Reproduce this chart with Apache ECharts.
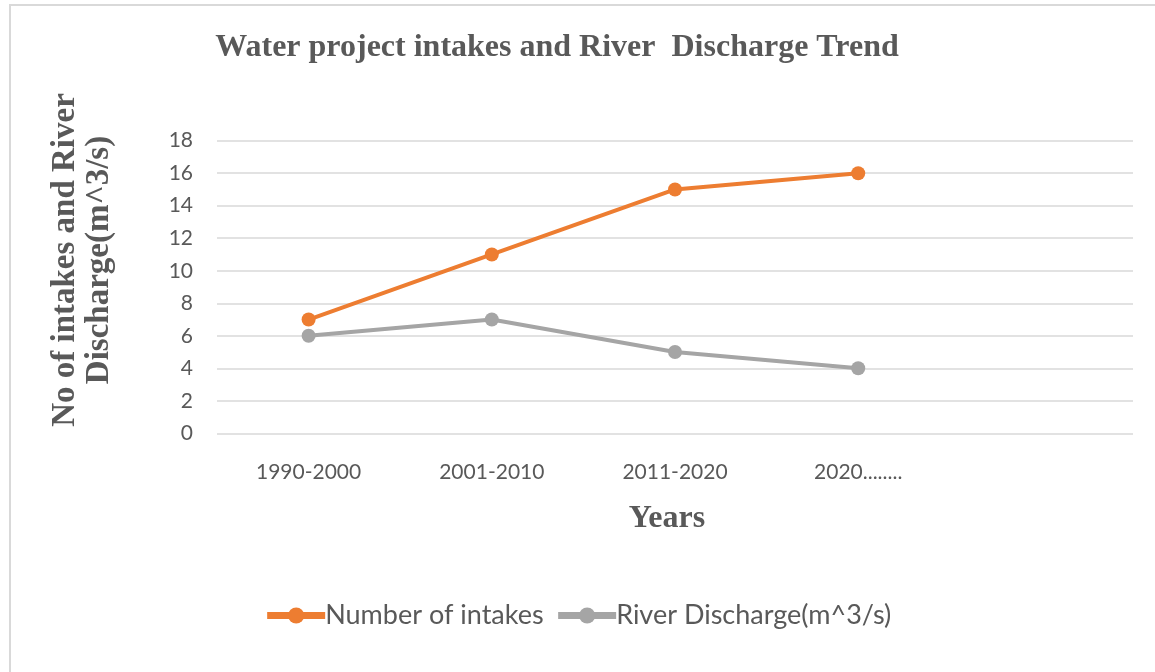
<!DOCTYPE html>
<html>
<head>
<meta charset="utf-8">
<title>Water project intakes and River Discharge Trend</title>
<script src="https://cdn.jsdelivr.net/npm/echarts@6/dist/echarts.min.js"></script>
<style>
  html, body { margin: 0; padding: 0; background: #fff; }
  #frame {
    position: absolute; left: 9px; top: 4px;
    width: 1160px; height: 680px;
    border: 2px solid #d9d9d9; box-sizing: border-box;
  }
  #chart { position: absolute; left: 0; top: 0; width: 1155px; height: 672px; }
</style>
</head>
<body>
<div id="frame"></div>
<div id="chart"></div>
<script>
// categories (the last, empty one keeps the plot area wide like the original)
const years = ['1990-2000', '2001-2010', '2011-2020', '2020........', '']
const intakes = [7, 11, 15, 16]
const discharge = [6, 7, 5, 4]
const yTicks = { min: 0, max: 18, interval: 2 }

const textGrey = '#595959'
const serif = '"Liberation Serif", "Times New Roman", serif'
const sans = 'Lato, "Open Sans", sans-serif'

const chart = echarts.init(document.getElementById('chart'))

const lineSeries = (name, data, color) => ({
  name,
  type: 'line',
  data,
  symbol: 'circle',
  symbolSize: 14,
  lineStyle: { color, width: 4 },
  itemStyle: { color },
  emphasis: { disabled: true },
})

chart.setOption({
  animation: false,
  title: {
    text: 'Water project intakes and River  Discharge Trend',
    left: 552,
    textAlign: 'center',
    top: 27,
    textStyle: { fontFamily: serif, fontWeight: 'bold', fontSize: 32, color: textGrey },
  },
  legend: {
    bottom: 38,
    left: 'center',
    itemWidth: 58,
    itemHeight: 20,
    itemGap: 11,
    lineStyle: { width: 7 },
    textStyle: { fontFamily: sans, fontSize: 27, color: textGrey, padding: [0, 0, 0, -5] },
    data: ['Number of intakes', 'River Discharge(m^3/s)'],
  },
  grid: { left: 217, right: 22, top: 140.7, bottom: 238.7, containLabel: false },
  xAxis: {
    type: 'category',
    data: years,
    boundaryGap: true,
    name: 'Years',
    nameLocation: 'middle',
    nameGap: 69,
    nameTextStyle: { fontFamily: serif, fontWeight: 'bold', fontSize: 32, color: textGrey, padding: [0, 16, 0, 0] },
    axisLine: { show: false },
    axisTick: { show: false },
    axisLabel: { fontFamily: sans, fontSize: 21, color: textGrey, margin: 28 },
  },
  yAxis: {
    type: 'value',
    min: yTicks.min,
    max: yTicks.max,
    interval: yTicks.interval,
    name: 'No of intakes and River\nDischarge(m^3/s)',
    nameLocation: 'middle',
    nameRotate: 90,
    nameGap: 101,
    nameTextStyle: {
      fontFamily: serif, fontWeight: 'bold', fontSize: 33, lineHeight: 34,
      color: textGrey, padding: [0, 0, 0, 54],
    },
    axisLine: { show: false },
    axisTick: { show: false },
    axisLabel: { fontFamily: sans, fontSize: 21, color: textGrey, margin: 24 },
    splitLine: { lineStyle: { color: '#d9d9d9', width: 1.5 } },
  },
  series: [
    lineSeries('Number of intakes', intakes, '#ed7d31'),
    lineSeries('River Discharge(m^3/s)', discharge, '#a5a5a5'),
  ],
})
</script>
</body>
</html>
